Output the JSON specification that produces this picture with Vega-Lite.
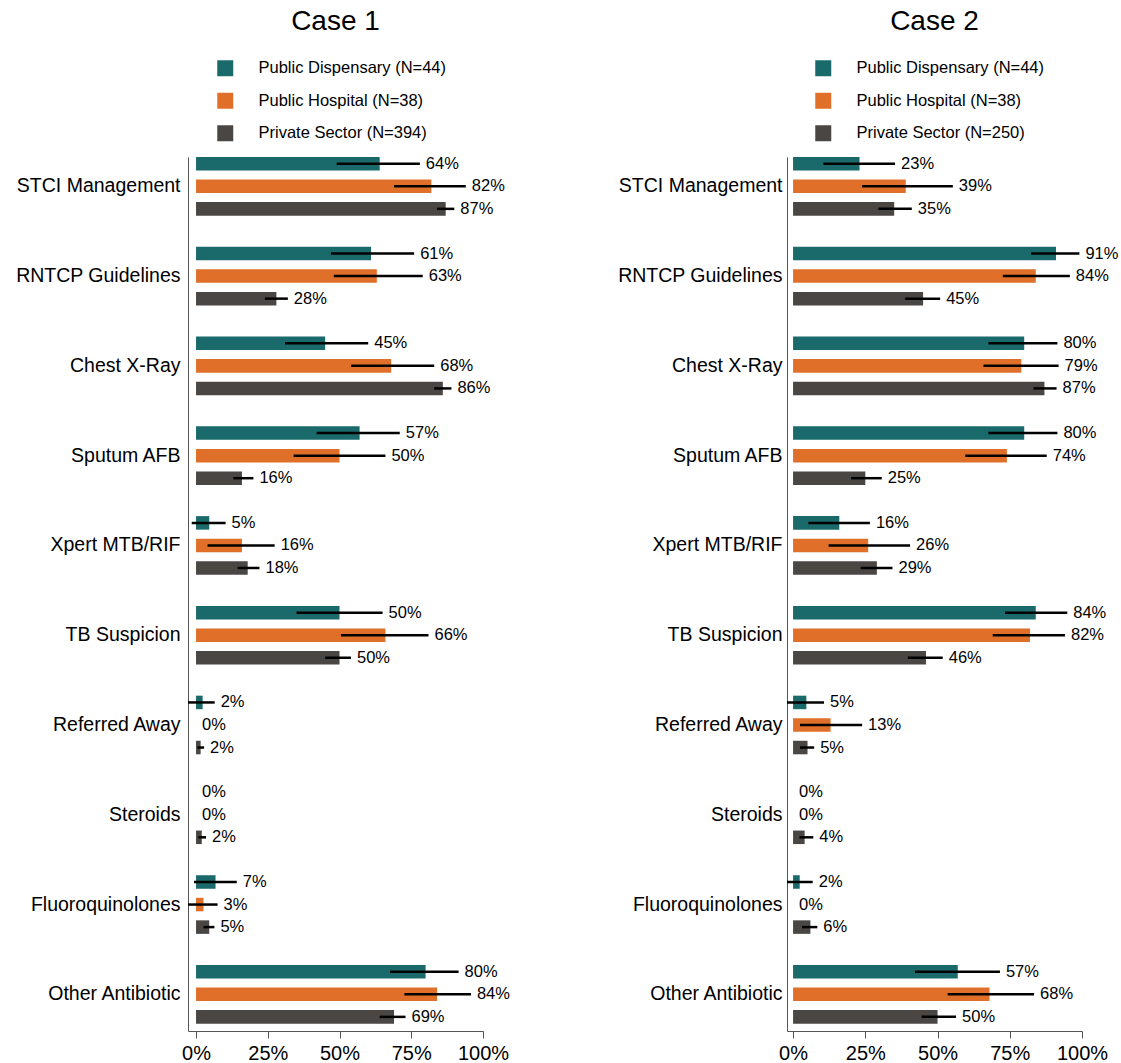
{
  "$schema": "https://vega.github.io/schema/vega-lite/v6.json",
  "padding": {"left": 15, "top": 8, "right": 5, "bottom": 5},
  "bounds": "flush",
  "spacing": 304,
  "config": {
    "view": {"stroke": null},
    "font": "Liberation Sans",
    "axis": {"labelFont": "Liberation Sans", "labelColor": "black", "domainColor": "#555555", "tickColor": "#555555", "grid": false, "title": null},
    "legend": {"labelFont": "Liberation Sans", "labelColor": "black", "labelLimit": 400},
    "title": {"font": "Liberation Sans", "fontWeight": "normal", "color": "black", "fontSize": 28, "anchor": "middle"}
  },
  "datasets": {
    "d": [
      {"c": 1, "ind": "STCI Management", "grp": "Public Dispensary (N=44)", "v": 0.64, "lo": 0.49, "hi": 0.78},
      {"c": 1, "ind": "STCI Management", "grp": "Public Hospital (N=38)", "v": 0.82, "lo": 0.69, "hi": 0.94},
      {"c": 1, "ind": "STCI Management", "grp": "Private Sector (N=394)", "v": 0.87, "lo": 0.84, "hi": 0.90},
      {"c": 1, "ind": "RNTCP Guidelines", "grp": "Public Dispensary (N=44)", "v": 0.61, "lo": 0.47, "hi": 0.76},
      {"c": 1, "ind": "RNTCP Guidelines", "grp": "Public Hospital (N=38)", "v": 0.63, "lo": 0.48, "hi": 0.79},
      {"c": 1, "ind": "RNTCP Guidelines", "grp": "Private Sector (N=394)", "v": 0.28, "lo": 0.24, "hi": 0.32},
      {"c": 1, "ind": "Chest X-Ray", "grp": "Public Dispensary (N=44)", "v": 0.45, "lo": 0.31, "hi": 0.60},
      {"c": 1, "ind": "Chest X-Ray", "grp": "Public Hospital (N=38)", "v": 0.68, "lo": 0.54, "hi": 0.83},
      {"c": 1, "ind": "Chest X-Ray", "grp": "Private Sector (N=394)", "v": 0.86, "lo": 0.83, "hi": 0.89},
      {"c": 1, "ind": "Sputum AFB", "grp": "Public Dispensary (N=44)", "v": 0.57, "lo": 0.42, "hi": 0.71},
      {"c": 1, "ind": "Sputum AFB", "grp": "Public Hospital (N=38)", "v": 0.50, "lo": 0.34, "hi": 0.66},
      {"c": 1, "ind": "Sputum AFB", "grp": "Private Sector (N=394)", "v": 0.16, "lo": 0.13, "hi": 0.20},
      {"c": 1, "ind": "Xpert MTB/RIF", "grp": "Public Dispensary (N=44)", "v": 0.046, "lo": -0.015, "hi": 0.103},
      {"c": 1, "ind": "Xpert MTB/RIF", "grp": "Public Hospital (N=38)", "v": 0.16, "lo": 0.04, "hi": 0.274},
      {"c": 1, "ind": "Xpert MTB/RIF", "grp": "Private Sector (N=394)", "v": 0.18, "lo": 0.145, "hi": 0.221},
      {"c": 1, "ind": "TB Suspicion", "grp": "Public Dispensary (N=44)", "v": 0.50, "lo": 0.35, "hi": 0.65},
      {"c": 1, "ind": "TB Suspicion", "grp": "Public Hospital (N=38)", "v": 0.66, "lo": 0.505, "hi": 0.81},
      {"c": 1, "ind": "TB Suspicion", "grp": "Private Sector (N=394)", "v": 0.50, "lo": 0.45, "hi": 0.54},
      {"c": 1, "ind": "Referred Away", "grp": "Public Dispensary (N=44)", "v": 0.023, "lo": -0.028, "hi": 0.065},
      {"c": 1, "ind": "Referred Away", "grp": "Public Hospital (N=38)", "v": 0, "lo": 0, "hi": 0},
      {"c": 1, "ind": "Referred Away", "grp": "Private Sector (N=394)", "v": 0.016, "lo": 0.005, "hi": 0.028},
      {"c": 1, "ind": "Steroids", "grp": "Public Dispensary (N=44)", "v": 0, "lo": 0, "hi": 0},
      {"c": 1, "ind": "Steroids", "grp": "Public Hospital (N=38)", "v": 0, "lo": 0, "hi": 0},
      {"c": 1, "ind": "Steroids", "grp": "Private Sector (N=394)", "v": 0.02, "lo": 0.008, "hi": 0.035},
      {"c": 1, "ind": "Fluoroquinolones", "grp": "Public Dispensary (N=44)", "v": 0.068, "lo": -0.007, "hi": 0.142},
      {"c": 1, "ind": "Fluoroquinolones", "grp": "Public Hospital (N=38)", "v": 0.026, "lo": -0.028, "hi": 0.075},
      {"c": 1, "ind": "Fluoroquinolones", "grp": "Private Sector (N=394)", "v": 0.046, "lo": 0.026, "hi": 0.064},
      {"c": 1, "ind": "Other Antibiotic", "grp": "Public Dispensary (N=44)", "v": 0.80, "lo": 0.676, "hi": 0.915},
      {"c": 1, "ind": "Other Antibiotic", "grp": "Public Hospital (N=38)", "v": 0.84, "lo": 0.726, "hi": 0.958},
      {"c": 1, "ind": "Other Antibiotic", "grp": "Private Sector (N=394)", "v": 0.69, "lo": 0.64, "hi": 0.73},
      {"c": 2, "ind": "STCI Management", "grp": "Public Dispensary (N=44)", "v": 0.23, "lo": 0.105, "hi": 0.353},
      {"c": 2, "ind": "STCI Management", "grp": "Public Hospital (N=38)", "v": 0.39, "lo": 0.239, "hi": 0.553},
      {"c": 2, "ind": "STCI Management", "grp": "Private Sector (N=250)", "v": 0.35, "lo": 0.295, "hi": 0.411},
      {"c": 2, "ind": "RNTCP Guidelines", "grp": "Public Dispensary (N=44)", "v": 0.91, "lo": 0.824, "hi": 0.991},
      {"c": 2, "ind": "RNTCP Guidelines", "grp": "Public Hospital (N=38)", "v": 0.84, "lo": 0.726, "hi": 0.958},
      {"c": 2, "ind": "RNTCP Guidelines", "grp": "Private Sector (N=250)", "v": 0.45, "lo": 0.388, "hi": 0.509},
      {"c": 2, "ind": "Chest X-Ray", "grp": "Public Dispensary (N=44)", "v": 0.80, "lo": 0.676, "hi": 0.915},
      {"c": 2, "ind": "Chest X-Ray", "grp": "Public Hospital (N=38)", "v": 0.79, "lo": 0.659, "hi": 0.919},
      {"c": 2, "ind": "Chest X-Ray", "grp": "Private Sector (N=250)", "v": 0.87, "lo": 0.832, "hi": 0.912},
      {"c": 2, "ind": "Sputum AFB", "grp": "Public Dispensary (N=44)", "v": 0.80, "lo": 0.676, "hi": 0.915},
      {"c": 2, "ind": "Sputum AFB", "grp": "Public Hospital (N=38)", "v": 0.74, "lo": 0.596, "hi": 0.878},
      {"c": 2, "ind": "Sputum AFB", "grp": "Private Sector (N=250)", "v": 0.25, "lo": 0.201, "hi": 0.307},
      {"c": 2, "ind": "Xpert MTB/RIF", "grp": "Public Dispensary (N=44)", "v": 0.16, "lo": 0.053, "hi": 0.266},
      {"c": 2, "ind": "Xpert MTB/RIF", "grp": "Public Hospital (N=38)", "v": 0.26, "lo": 0.123, "hi": 0.405},
      {"c": 2, "ind": "Xpert MTB/RIF", "grp": "Private Sector (N=250)", "v": 0.29, "lo": 0.234, "hi": 0.344},
      {"c": 2, "ind": "TB Suspicion", "grp": "Public Dispensary (N=44)", "v": 0.84, "lo": 0.734, "hi": 0.949},
      {"c": 2, "ind": "TB Suspicion", "grp": "Public Hospital (N=38)", "v": 0.82, "lo": 0.691, "hi": 0.941},
      {"c": 2, "ind": "TB Suspicion", "grp": "Private Sector (N=250)", "v": 0.46, "lo": 0.397, "hi": 0.518},
      {"c": 2, "ind": "Referred Away", "grp": "Public Dispensary (N=44)", "v": 0.046, "lo": -0.021, "hi": 0.107},
      {"c": 2, "ind": "Referred Away", "grp": "Public Hospital (N=38)", "v": 0.13, "lo": 0.024, "hi": 0.239},
      {"c": 2, "ind": "Referred Away", "grp": "Private Sector (N=250)", "v": 0.05, "lo": 0.024, "hi": 0.073},
      {"c": 2, "ind": "Steroids", "grp": "Public Dispensary (N=44)", "v": 0, "lo": 0, "hi": 0},
      {"c": 2, "ind": "Steroids", "grp": "Public Hospital (N=38)", "v": 0, "lo": 0, "hi": 0},
      {"c": 2, "ind": "Steroids", "grp": "Private Sector (N=250)", "v": 0.04, "lo": 0.022, "hi": 0.07},
      {"c": 2, "ind": "Fluoroquinolones", "grp": "Public Dispensary (N=44)", "v": 0.023, "lo": -0.021, "hi": 0.068},
      {"c": 2, "ind": "Fluoroquinolones", "grp": "Public Hospital (N=38)", "v": 0, "lo": 0, "hi": 0},
      {"c": 2, "ind": "Fluoroquinolones", "grp": "Private Sector (N=250)", "v": 0.06, "lo": 0.031, "hi": 0.084},
      {"c": 2, "ind": "Other Antibiotic", "grp": "Public Dispensary (N=44)", "v": 0.57, "lo": 0.422, "hi": 0.716},
      {"c": 2, "ind": "Other Antibiotic", "grp": "Public Hospital (N=38)", "v": 0.68, "lo": 0.535, "hi": 0.834},
      {"c": 2, "ind": "Other Antibiotic", "grp": "Private Sector (N=250)", "v": 0.50, "lo": 0.445, "hi": 0.564}
    ]
  },
  "resolve": {"scale": {"color": "independent", "x": "independent", "y": "independent", "yOffset": "independent"}, "legend": {"color": "independent"}},
  "hconcat": [
    {
      "title": {"text": "Case 1", "offset": 24},
      "width": 295,
      "height": 874,
      "data": {"name": "d"},
      "transform": [{"filter": "datum.c == 1"}],
      "encoding": {
        "y": {"field": "ind", "type": "nominal", "scale": {"domain": ["STCI Management", "RNTCP Guidelines", "Chest X-Ray", "Sputum AFB", "Xpert MTB/RIF", "TB Suspicion", "Referred Away", "Steroids", "Fluoroquinolones", "Other Antibiotic"], "paddingInner": 0.347, "paddingOuter": 0.041, "align": 0, "round": false}, "axis": {"ticks": false, "labelFontSize": 19.5, "labelPadding": 8, "labelLimit": 400}},
        "yOffset": {"field": "grp", "type": "nominal", "scale": {"domain": ["Public Dispensary (N=44)", "Public Hospital (N=38)", "Private Sector (N=394)"], "paddingInner": 0.4, "paddingOuter": 0}}
      },
      "layer": [
        {
          "mark": {"type": "bar"},
          "encoding": {
            "x": {"field": "v", "type": "quantitative", "scale": {"domain": [-0.028, 1], "nice": false, "zero": false}, "axis": {"values": [0, 0.25, 0.5, 0.75, 1], "format": ".0%", "labelFontSize": 20, "tickSize": 7, "labelPadding": 5, "labelFlush": false}},
            "x2": {"datum": 0},
            "color": {"field": "grp", "type": "nominal", "scale": {"domain": ["Public Dispensary (N=44)", "Public Hospital (N=38)", "Private Sector (N=394)"], "range": ["#1b6a6b", "#e07029", "#4a4644"]},
              "legend": {"orient": "none", "legendX": 29, "legendY": -97, "direction": "vertical", "title": null, "symbolType": "square", "symbolSize": 256, "symbolStrokeWidth": 0, "symbolOpacity": 1, "labelFontSize": 16.5, "labelOffset": 25, "rowPadding": 15.5, "labelLimit": 400}}
          }
        },
        {
          "mark": {"type": "rule", "color": "black", "strokeWidth": 2.5, "clip": true},
          "encoding": {"x": {"field": "lo", "type": "quantitative"}, "x2": {"field": "hi"}}
        },
        {
          "mark": {"type": "text", "align": "left", "baseline": "middle", "dx": 6, "fontSize": 16.5, "font": "Liberation Sans", "color": "black"},
          "encoding": {"x": {"field": "hi", "type": "quantitative"}, "text": {"field": "v", "type": "quantitative", "format": ".0%"}}
        }
      ]
    },
    {
      "title": {"text": "Case 2", "offset": 24},
      "width": 295,
      "height": 874,
      "data": {"name": "d"},
      "transform": [{"filter": "datum.c == 2"}],
      "encoding": {
        "y": {"field": "ind", "type": "nominal", "scale": {"domain": ["STCI Management", "RNTCP Guidelines", "Chest X-Ray", "Sputum AFB", "Xpert MTB/RIF", "TB Suspicion", "Referred Away", "Steroids", "Fluoroquinolones", "Other Antibiotic"], "paddingInner": 0.347, "paddingOuter": 0.041, "align": 0, "round": false}, "axis": {"ticks": false, "labelFontSize": 19.5, "labelPadding": 5, "labelLimit": 400}},
        "yOffset": {"field": "grp", "type": "nominal", "scale": {"domain": ["Public Dispensary (N=44)", "Public Hospital (N=38)", "Private Sector (N=250)"], "paddingInner": 0.4, "paddingOuter": 0}}
      },
      "layer": [
        {
          "mark": {"type": "bar"},
          "encoding": {
            "x": {"field": "v", "type": "quantitative", "scale": {"domain": [-0.021, 1], "nice": false, "zero": false}, "axis": {"values": [0, 0.25, 0.5, 0.75, 1], "format": ".0%", "labelFontSize": 20, "tickSize": 7, "labelPadding": 5, "labelFlush": false}},
            "x2": {"datum": 0},
            "color": {"field": "grp", "type": "nominal", "scale": {"domain": ["Public Dispensary (N=44)", "Public Hospital (N=38)", "Private Sector (N=250)"], "range": ["#1b6a6b", "#e07029", "#4a4644"]},
              "legend": {"orient": "none", "legendX": 28, "legendY": -97, "direction": "vertical", "title": null, "symbolType": "square", "symbolSize": 256, "symbolStrokeWidth": 0, "symbolOpacity": 1, "labelFontSize": 16.5, "labelOffset": 25, "rowPadding": 15.5, "labelLimit": 400}}
          }
        },
        {
          "mark": {"type": "rule", "color": "black", "strokeWidth": 2.5, "clip": true},
          "encoding": {"x": {"field": "lo", "type": "quantitative"}, "x2": {"field": "hi"}}
        },
        {
          "mark": {"type": "text", "align": "left", "baseline": "middle", "dx": 6, "fontSize": 16.5, "font": "Liberation Sans", "color": "black"},
          "encoding": {"x": {"field": "hi", "type": "quantitative"}, "text": {"field": "v", "type": "quantitative", "format": ".0%"}}
        }
      ]
    }
  ]
}
